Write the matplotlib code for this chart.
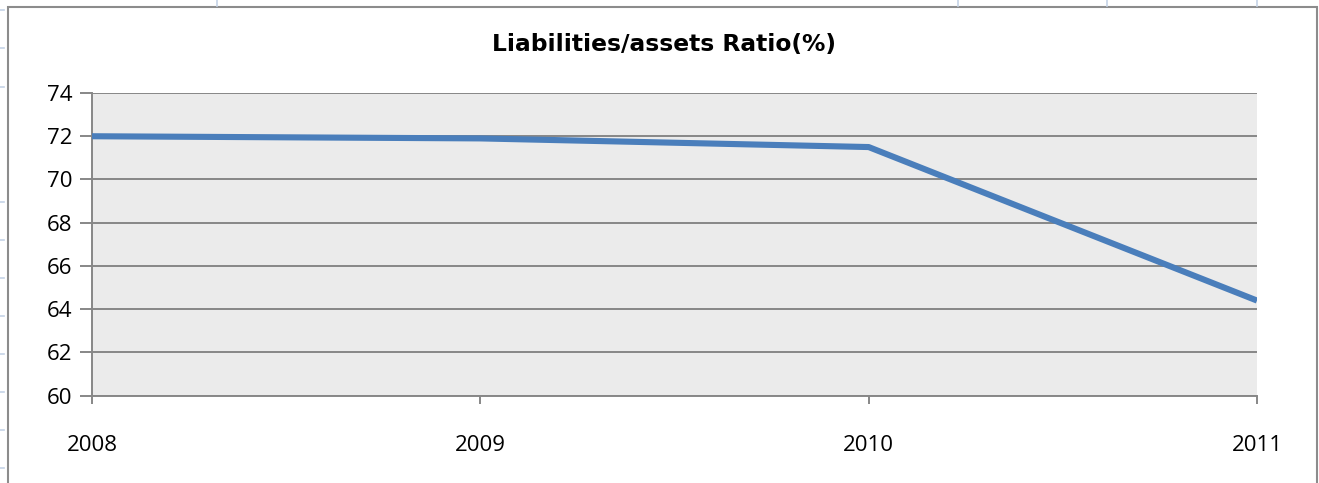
import matplotlib
matplotlib.use("Agg")
import matplotlib.pyplot as plt
from matplotlib.patches import Rectangle
from matplotlib.lines import Line2D

years = ["2008", "2009", "2010", "2011"]
ratio = [72.0, 71.9, 71.5, 64.4]
yticks = [60, 62, 64, 66, 68, 70, 72, 74]
title = "Liabilities/assets Ratio(%)"

W, H = 1319, 483
fig = plt.figure(figsize=(W / 100, H / 100), dpi=100)
fig.patch.set_facecolor("white")

# faint spreadsheet grid fragments outside the chart
for xp in [217, 958, 1107, 1257]:
    fig.add_artist(Line2D([xp / W, xp / W], [1 - 0 / H, 1 - 6 / H], color="#c5d3e6", lw=1.2))
for yp in [10, 48, 87, 202, 240, 278, 316, 354, 392, 430, 468]:
    fig.add_artist(Line2D([0, 4 / W], [1 - yp / H, 1 - yp / H], color="#c5d3e6", lw=1.2))

# chart frame (bottom edge lies just below the visible image)
fig.add_artist(Rectangle((8 / W, 1 - 492 / H), (1317 - 8) / W, (492 - 7) / H,
                         fill=False, edgecolor="#8c8c8c", lw=1.5))

ax = fig.add_axes([92 / W, 1 - 395.7 / H, (1257 - 92) / W, (395.7 - 93) / H])
ax.set_facecolor("#ebebeb")
x = list(range(len(years)))
ax.plot(x, ratio, color="#4a7ebb", lw=4.4, solid_capstyle="butt", zorder=3)
ax.set_xlim(0, len(years) - 1)
ax.set_ylim(60, 74)
ax.set_yticks(yticks)
ax.set_xticks(x)
ax.set_xticklabels(years)
ax.grid(axis="y", color="#878787", lw=1.4)
ax.set_axisbelow(True)
for s in ["top", "right"]:
    ax.spines[s].set_visible(False)
for s in ["left", "bottom"]:
    ax.spines[s].set_color("#878787")
    ax.spines[s].set_linewidth(1.4)
ax.tick_params(axis="y", length=9, width=1.4, color="#878787", pad=5,
               labelsize=16, labelcolor="black")
ax.tick_params(axis="x", length=6, width=1.4, color="#878787", pad=22,
               labelsize=16, labelcolor="black")
for lab in ax.get_xticklabels() + ax.get_yticklabels():
    lab.set_family("Open Sans")

fig.text(664 / W, 1 - 45 / H, title, ha="center", va="center",
         fontsize=16.8, fontweight="bold", family="DejaVu Sans")

fig.savefig("out.png", dpi=100)
